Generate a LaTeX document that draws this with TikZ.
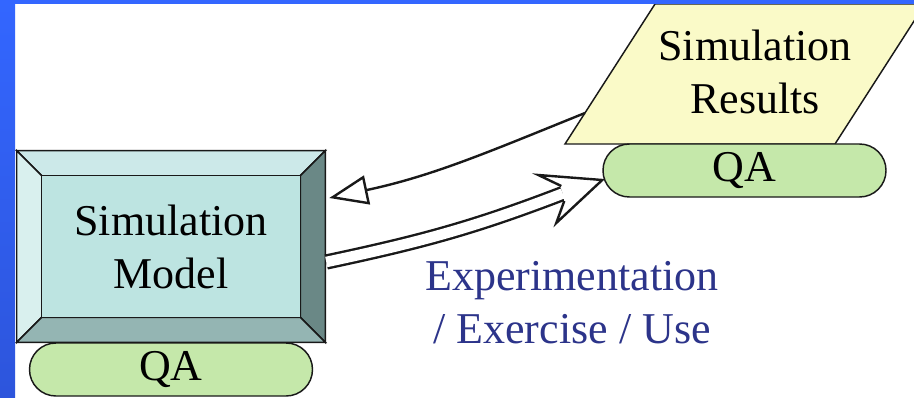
\documentclass[tikz,border=0pt]{standalone}
\usepackage{fontspec}
\setmainfont{Liberation Serif}
\usetikzlibrary{calc,arrows.meta,backgrounds}
\definecolor{bevTop}{RGB}{204,233,233}
\definecolor{bevLeft}{RGB}{217,240,238}
\definecolor{bevIn}{RGB}{189,228,225}
\definecolor{bevRight}{RGB}{106,136,134}
\definecolor{bevBot}{RGB}{148,181,179}
\definecolor{qagreen}{RGB}{197,232,170}
\definecolor{resyellow}{RGB}{250,250,200}
\definecolor{frameblue}{RGB}{51,102,255}
\definecolor{frameblue2}{RGB}{45,85,220}
\definecolor{navytext}{RGB}{44,52,138}
\definecolor{ink}{RGB}{25,25,25}
\begin{document}
\begin{tikzpicture}[x=0.75pt,y=0.75pt,
  outl/.style={draw=ink, line width=1.1pt},
  bigtext/.style={font=\fontsize{33}{39.75}\selectfont, align=center, inner sep=0pt},
  qapill/.style={outl, fill=qagreen, rounded corners=19.8pt, minimum width=212.25pt,
    minimum height=39.75pt, inner sep=0pt, bigtext},
  conn/.style={draw=ink, line width=1.8pt, line join=miter}]
\useasboundingbox (0,0) rectangle (914,397);

% Simulation model (bevelled box, fills on background layer)
\node[minimum width=231pt, minimum height=143.25pt, inner sep=0pt, bigtext] (model) at (171,150.5) {Simulation\\Model};
\node[qapill] (qa1) at (171,27.5) {QA};

% Simulation results parallelogram
\draw[outl, fill=resyellow] (565,253) -- (835,253) -- (925,393) -- (655,393) -- cycle;
\node[bigtext] (res) at (755,325.5) {Simulation\\Results};
\node[qapill] (qa2) at (744.5,226.5) {QA};

% label
\node[bigtext, text=navytext] (use) at (572,94.5) {Experimentation\\/ Exercise / Use};

\begin{pgfonlayer}{background}
  \fill[white] (0,0) rectangle (914,397);
  \coordinate (iNW) at ($(model.north west)+(25,-25)$);
  \coordinate (iNE) at ($(model.north east)+(-25,-25)$);
  \coordinate (iSE) at ($(model.south east)+(-25,25)$);
  \coordinate (iSW) at ($(model.south west)+(25,25)$);
  \draw[outl, fill=bevTop] (model.north west) -- (model.north east) -- (iNE) -- (iNW) -- cycle;
  \draw[outl, fill=bevLeft] (model.north west) -- (iNW) -- (iSW) -- (model.south west) -- cycle;
  \draw[outl, fill=bevRight] (model.north east) -- (model.south east) -- (iSE) -- (iNE) -- cycle;
  \draw[outl, fill=bevBot] (model.south west) -- (iSW) -- (iSE) -- (model.south east) -- cycle;
  \draw[outl, fill=bevIn] (iNW) rectangle (iSE);
\end{pgfonlayer}

% return arrow (results -> model)
\coordinate (rs) at (585,284);
\coordinate (rtip) at ($(model.east)+(4,48.5)$);
\draw[conn, -{Triangle[fill=white, length=29pt, width=22pt]}] (rs) to[out=202,in=12] (rtip);

% forward arrow (model -> results QA), outlined double arrow
\coordinate (ftip) at ($(qa2.west)+(0,-9.5)$);
\coordinate (fs) at ($(model.east)+(1,-15.5)$);
\coordinate (fe) at ($(ftip)+(-39.5,-13.5)$);
\draw[draw=ink, line width=1.8pt, double=white, double distance=7.9pt] (fs) to[out=12,in=201] (fe);
\fill[white] (ftip) -- ($(ftip)+(-64,5)$) -- ($(ftip)+(-41,-6)$) -- ($(ftip)+(-38,-21)$) -- ($(ftip)+(-46,-43)$) -- cycle;
\draw[conn] ($(ftip)+(-41,-6)$) -- ($(ftip)+(-64,5)$) -- (ftip) -- ($(ftip)+(-46,-43)$) -- ($(ftip)+(-38,-21)$);

% blue frame
\fill[frameblue] (0,393) rectangle (914,397);
\shade[top color=frameblue, bottom color=frameblue2] (0,0) rectangle (15,397);
\end{tikzpicture}
\end{document}
